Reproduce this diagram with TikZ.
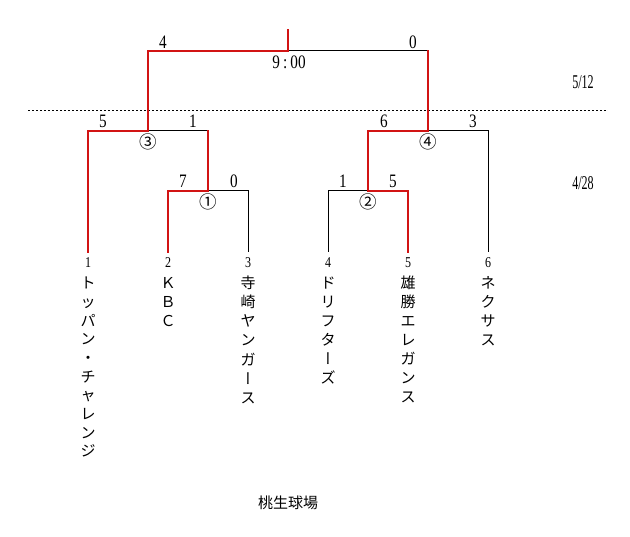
\documentclass[tikz,border=0pt]{standalone}
\usepackage{fontspec}
\setmainfont{Liberation Serif}
\newfontfamily\jp{Noto Sans CJK JP}
\newfontfamily\jpv[RawFeature=+vert]{Noto Sans CJK JP}
\newfontfamily\numf[FakeStretch=0.8]{Liberation Serif}
\newfontfamily\datef[FakeStretch=0.62]{Liberation Serif}
\definecolor{winred}{RGB}{210,20,20}
\begin{document}
\begin{tikzpicture}[x=1pt,y=-1pt,
  blk/.style={draw=black, line width=1pt},
  win/.style={draw=winred, line width=2pt, line join=miter, line cap=rect},
  score/.style={font=\numf\fontsize{19}{19}\selectfont, inner sep=0, anchor=center},
  mno/.style={font=\jp\fontsize{17.5}{17.5}\selectfont, inner sep=0},
  venuestyle/.style={font=\jp\fontsize{15}{15}\selectfont, inner sep=0},
  tno/.style={font=\numf\fontsize{15}{15}\selectfont, inner sep=0},
  datelbl/.style={font=\datef\fontsize{19.5}{19.5}\selectfont, inner sep=0},
  jch/.style={font=\jp\fontsize{15}{15}\selectfont, inner sep=0, anchor=base},
  dotline/.style={draw=black, line width=1pt, dash pattern=on 2pt off 2pt}]
\useasboundingbox (0,0) rectangle (630,537);
% coordinates
\coordinate (t1b) at (88,252);  \coordinate (t2b) at (168,252);
\coordinate (t3b) at (248,252); \coordinate (t4b) at (328,252);
\coordinate (t5b) at (408,252); \coordinate (t6b) at (488,252);
\coordinate (t1c) at (88,131);  \coordinate (m3) at (148,131);
\coordinate (m3r) at (208,131); \coordinate (t2c) at (168,191);
\coordinate (m1) at (208,191);  \coordinate (t3c) at (248,191);
\coordinate (t4c) at (328,191); \coordinate (m2) at (368,191);
\coordinate (t5c) at (408,191); \coordinate (m4l) at (368,131);
\coordinate (m4) at (428,131);  \coordinate (t6c) at (488,131);
\coordinate (fl) at (148,51);   \coordinate (f) at (288,51);
\coordinate (fr) at (428,51);   \coordinate (top) at (288,30);
\coordinate (dl) at (28,111);   \coordinate (dr) at (607,111);
% dotted separator
\draw[dotline] (dl) -- (dr);
% black (losing) lines
\draw[blk] (m3) -- (m3r);
\draw[blk] (m1) -- (t3c) -- (t3b);
\draw[blk] (m2) -- (t4c) -- (t4b);
\draw[blk] (m4) -- (t6c) -- (t6b);
\draw[blk] (f) -- (fr);
% red (winning) lines
\draw[win] (t1b) -- (t1c) -- (m3) -- (fl) -- (f) -- (top);
\draw[win] (t2b) -- (t2c) -- (m1) -- (m3r);
\draw[win] (t5b) -- (t5c) -- (m2) -- (m4l) -- (m4) -- (fr);
% scores
\node[score] (s4) at (163,42) {4};
\node[score] (s0) at (413,42) {0};
\node[score] (time) at (289,62) {9\,:\,00};
\node[score] (a5) at (103,121) {5};
\node[score] (a1) at (193,121) {1};
\node[score] (b7) at (183,181) {7};
\node[score] (b0) at (234,181) {0};
\node[score] (c6) at (384,121) {6};
\node[score] (c3) at (473,121) {3};
\node[score] (d1) at (343,181) {1};
\node[score] (d5) at (393,181) {5};
% match numbers
\node[mno] (n3) at (148,142) {③};
\node[mno] (n1) at (208,202) {①};
\node[mno] (n4) at (428,142) {④};
\node[mno] (n2) at (368,202) {②};
% dates
\node[datelbl] (d512) at (583,82) {5/12};
\node[datelbl] (d428) at (583,183) {4/28};
% team numbers
\foreach \x/\n in {88/1,168/2,248/3,328/4,408/5,488/6}
  \node[tno] (tn\n) at (\x,263) {\n};
% team names (vertical)
\foreach \c [count=\i from 0] in {ト,ッ,パ,ン,・,チ,ャ,レ,ン,ジ}
  \node[jch] (ta\i) at (88,{288.7+18.7*\i}) {\c};
\foreach \c [count=\i from 0] in {Ｋ,Ｂ,Ｃ}
  \node[jch] (tb\i) at (168,{288.7+18.7*\i}) {\c};
\foreach \c [count=\i from 0] in {寺,崎,ヤ,ン,ガ,{\jpv ー},ス}
  \node[jch] (tc\i) at (248,{288.7+19.1*\i}) {\c};
\foreach \c [count=\i from 0] in {ド,リ,フ,タ,{\jpv ー},ズ}
  \node[jch] (td\i) at (328,{288.7+19*\i}) {\c};
\foreach \c [count=\i from 0] in {雄,勝,エ,レ,ガ,ン,ス}
  \node[jch] (te\i) at (408,{288.7+19*\i}) {\c};
\foreach \c [count=\i from 0] in {ネ,ク,サ,ス}
  \node[jch] (tf\i) at (488,{288.7+19*\i}) {\c};
% venue
\node[venuestyle] (venue) at (288,503) {桃生球場};
\end{tikzpicture}
\end{document}
